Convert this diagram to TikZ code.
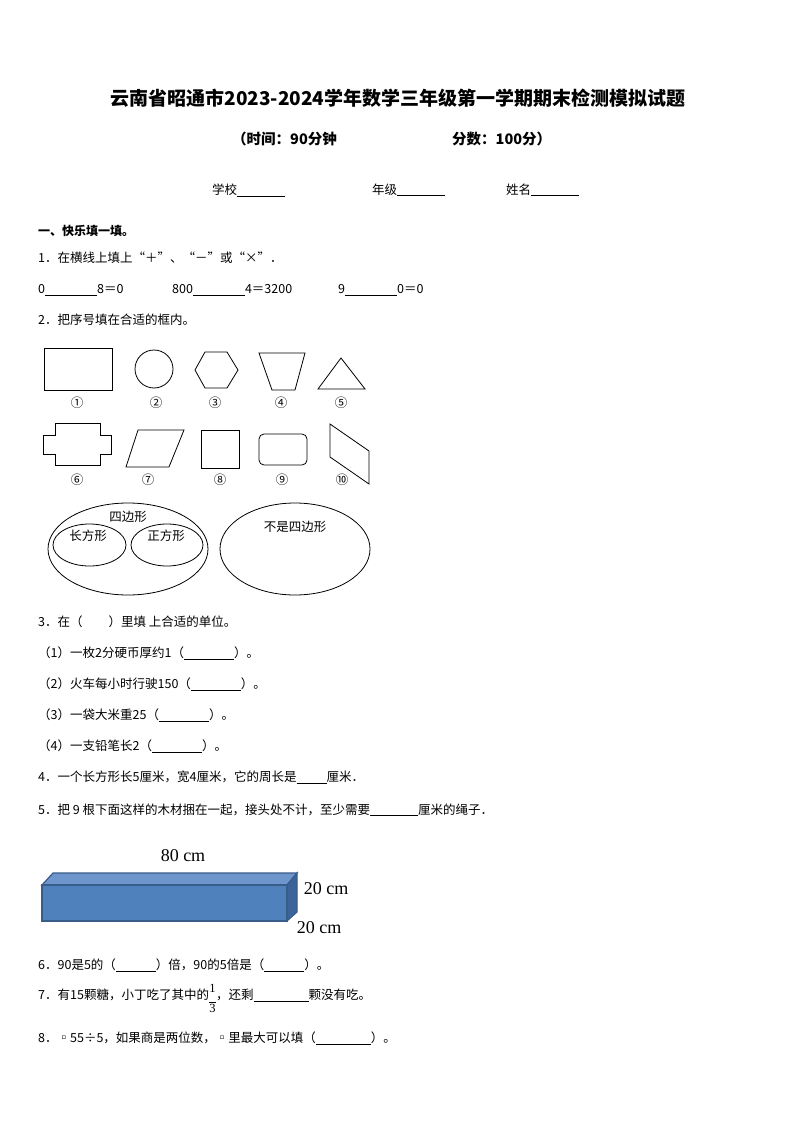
\documentclass[tikz,border=0pt]{standalone}
\usepackage{fontspec}
\setmainfont{Noto Sans CJK SC}
\newfontfamily\tms{Liberation Serif}
\newcommand{\bl}[1]{\underline{\hspace{#1pt}}}
\newcommand{\fracthird}{\raisebox{-0.5ex}{\begin{tabular}{@{}c@{}}\tms 1\\[-4pt]\rule{7pt}{0.5pt}\\[-4pt]\tms 3\end{tabular}}}
\begin{document}
\begin{tikzpicture}[x=1pt,y=-1pt,
  t/.style={anchor=west,inner sep=0,font=\fontsize{12.5}{14}\selectfont},
  c/.style={inner sep=0,font=\fontsize{12.5}{14}\selectfont},
  sh/.style={draw,line width=0.8pt}]
\useasboundingbox[fill=white] (0,0) rectangle (794,1123);
\node[inner sep=0,font=\fontsize{19}{22}\selectfont\bfseries] (title) at (398,98) {云南省昭通市2023-2024学年数学三年级第一学期期末检测模拟试题};
\node[t,font=\fontsize{14.5}{16}\selectfont\bfseries] (sub1) at (232,139) {（时间：90分钟};
\node[t,font=\fontsize{14.5}{16}\selectfont\bfseries] (sub2) at (452,139) {分数：100分）};
\node[t] (school) at (212,190) {学校\bl{48}};
\node[t] (grade) at (372,190) {年级\bl{48}};
\node[t] (name) at (506,190) {姓名\bl{48}};
\node[t,font=\fontsize{12}{14}\selectfont\bfseries] (sec1) at (38,231) {一、快乐填一填。};
\node[t] (q1) at (38,258) {1．在横线上填上“＋”、“－”或“×”．};
\node[t] (q1a) at (38,290) {0\bl{52}8＝0};
\node[t] (q1b) at (172,290) {800\bl{52}4＝3200};
\node[t] (q1c) at (338,290) {9\bl{52}0＝0};
\node[t] (q2) at (38,320) {2．把序号填在合适的框内。};
% shapes row 1
\draw[sh] (44,348) rectangle (112,390);
\draw[sh] (154,369) circle (19);
\draw[sh] (195,370) -- (205,352) -- (227,352) -- (238,370) -- (227,388) -- (205,388) -- cycle;
\draw[sh] (259,353) -- (305,353) -- (295,390) -- (272,390) -- cycle;
\draw[sh] (318,389) -- (365,389) -- (341,358) -- cycle;
\foreach \x/\l in {77/①,156/②,215/③,281/④,341/⑤}
  \node[c] at (\x,403) {\l};
% row 2
\draw[sh] (55,423) -- (100,423) -- (100,435) -- (111,435) -- (111,454) -- (100,454) -- (100,465) -- (55,465) -- (55,454) -- (43,454) -- (43,435) -- (55,435) -- cycle;
\draw[sh] (126,467) -- (138,430) -- (184,430) -- (169,467) -- cycle;
\draw[sh] (201,430) rectangle (239,468);
\draw[sh,rounded corners=5pt] (259,434) rectangle (307,465);
\draw[sh] (330,424) -- (369,451) -- (369,484) -- (330,457) -- cycle;
\foreach \x/\l in {77/⑥,148/⑦,220/⑧,282/⑨,342/⑩}
  \node[c] at (\x,480) {\l};
% ellipses
\draw[sh] (128,549) ellipse (80 and 46);
\draw[sh] (89.5,545) ellipse (36.5 and 21);
\draw[sh] (167,545) ellipse (36 and 21);
\draw[sh] (295,549) ellipse (75 and 46);
\node[c] (quad) at (128,517) {四边形};
\node[c] (rect) at (88,536) {长方形};
\node[c] (sq) at (166,536) {正方形};
\node[c] (notq) at (295,527) {不是四边形};
\node[t] (q3) at (38,622) {3．在（\hspace{26pt}）里填 上合适的单位。};
\node[t] (q31) at (38,653) {（1）一枚2分硬币厚约1（\bl{50}）。};
\node[t] (q32) at (38,684) {（2）火车每小时行驶150（\bl{50}）。};
\node[t] (q33) at (38,715) {（3）一袋大米重25（\bl{50}）。};
\node[t] (q34) at (38,746) {（4）一支铅笔长2（\bl{50}）。};
\node[t] (q4) at (38,777) {4．一个长方形长5厘米，宽4厘米，它的周长是\bl{30}厘米．};
\node[t] (q5) at (38,810) {5．把 9 根下面这样的木材捆在一起，接头处不计，至少需要\bl{48}厘米的绳子．};
% block
\definecolor{bfront}{RGB}{79,129,189}
\definecolor{btop}{RGB}{110,150,205}
\definecolor{bside}{RGB}{60,100,155}
\definecolor{bedge}{RGB}{56,93,138}
\filldraw[fill=btop,draw=bedge,line width=1.2pt] (42,885) -- (53,873) -- (297,873) -- (287,885) -- cycle;
\filldraw[fill=bside,draw=bedge,line width=1.2pt] (287,885) -- (297,873) -- (297,912) -- (287,921) -- cycle;
\filldraw[fill=bfront,draw=bedge,line width=1.2pt] (42,885) rectangle (287,921);
\node[inner sep=0,font=\tms\fontsize{18}{20}\selectfont] (l80) at (183,856) {80 cm};
\node[inner sep=0,font=\tms\fontsize{18}{20}\selectfont] (l20a) at (326,889) {20 cm};
\node[inner sep=0,font=\tms\fontsize{18}{20}\selectfont] (l20b) at (319,928) {20 cm};
\node[t] (q6) at (38,965) {6．90是5的（\bl{40}）倍，90的5倍是（\bl{40}）。};
\node[t] (q7) at (38,1000) {7．有15颗糖，小丁吃了其中的\fracthird，还剩\bl{55}颗没有吃。};
\node[t] (q8) at (38,1038) {8．▫55÷5，如果商是两位数，▫里最大可以填（\bl{55}）。};
\end{tikzpicture}
\end{document}
